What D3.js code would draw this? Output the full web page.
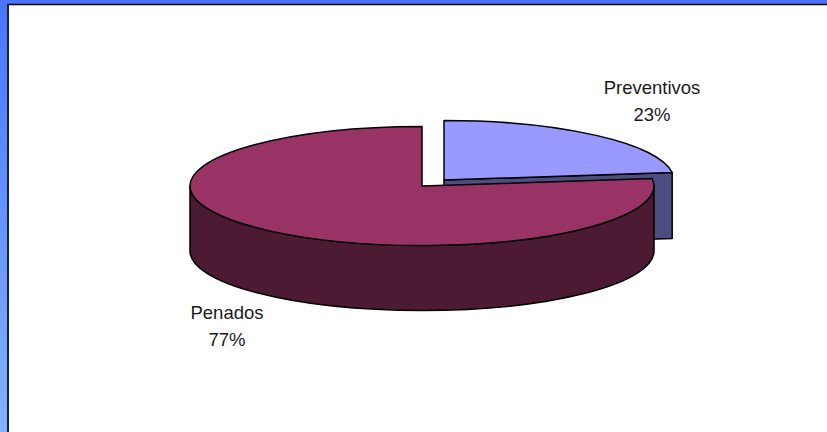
<!DOCTYPE html>
<html><head><meta charset="utf-8">
<script src="https://cdn.jsdelivr.net/npm/d3@7"></script>
<style>html,body{margin:0;padding:0;background:#fff;overflow:hidden}svg{display:block}text{font-family:"Liberation Sans",Arial,sans-serif;font-size:18.5px;fill:#1a1a1a;text-anchor:middle}</style>
</head><body><svg id="c" width="827" height="432"></svg>
<script>
const categories = ["Preventivos", "Penados"];
const values = [23, 77];
const percentLabels = ["23%", "77%"];
const topColors = ["#9999ff", "#993366"];
const wallColors = ["#4d4d80", "#4d1a33"];

const W = 827, H = 432;
const svg = d3.select("#c");
const defs = svg.append("defs");
const grad = defs.append("linearGradient").attr("id","bg").attr("x1",0).attr("y1",0).attr("x2",0).attr("y2",1);
grad.append("stop").attr("offset",0).attr("stop-color","#4a74ff");
grad.append("stop").attr("offset",1).attr("stop-color","#82b2ff");

svg.append("rect").attr("width",W).attr("height",H).attr("fill","url(#bg)");
svg.append("rect").attr("x",7).attr("y",4).attr("width",W-7).attr("height",H-4).attr("fill","#fff");
svg.append("line").attr("x1",7).attr("x2",W).attr("y1",4.5).attr("y2",4.5).attr("stroke","#000").attr("stroke-width",1.6);
svg.append("line").attr("x1",8).attr("x2",8).attr("y1",4).attr("y2",H).attr("stroke","#1c2233").attr("stroke-width",2);

const arcs = d3.pie().sort(null).value(d=>d)(values);
const slices = [
  {cx:444, cy:180, rx:230, ry:59.5, depth:66},
  {cx:422, cy:186, rx:232, ry:59.5, depth:65}
];
const pt = (s,a,dy=0)=>[s.cx+s.rx*Math.sin(a), s.cy-s.ry*Math.cos(a)+dy];
const line = {stroke:"#000","stroke-width":1.5,"stroke-linejoin":"round"};
const style = (sel,fill)=>{sel.attr("fill",fill);for(const k in line)sel.attr(k,line[k]);return sel;};

function topPath(s,a0,a1){
  const p0=pt(s,a0),p1=pt(s,a1),large=(a1-a0)>Math.PI?1:0;
  return `M${s.cx},${s.cy}L${p0}A${s.rx},${s.ry} 0 ${large} 1 ${p1}Z`;
}
// Blue slice: cut face at its far edge, then top
{
  const s=slices[0],a=arcs[0];
  const e=pt(s,a.endAngle), eb=pt(s,a.endAngle,s.depth);
  style(svg.append("path"),wallColors[0]).attr("d",`M${s.cx},${s.cy}L${e}L${eb}L${s.cx},${s.cy+s.depth}Z`);
  style(svg.append("path"),topColors[0]).attr("d",topPath(s,a.startAngle,a.endAngle));
}
// Red slice: outer wall along the front half of the ellipse, then top
{
  const s=slices[1],a=arcs[1];
  const a0=Math.max(a.startAngle,Math.PI/2), a1=Math.min(a.endAngle,Math.PI*1.5);
  const p0=pt(s,a0),p1=pt(s,a1),p0b=pt(s,a0,s.depth),p1b=pt(s,a1,s.depth);
  style(svg.append("path"),wallColors[1]).attr("d",
    `M${p0}A${s.rx},${s.ry} 0 0 1 ${p1}L${p1b}A${s.rx},${s.ry} 0 0 0 ${p0b}Z`);
  style(svg.append("path"),topColors[1]).attr("d",topPath(s,a.startAngle,a.endAngle));
}
const labelPos=[{x:652,y:[94,121]},{x:227,y:[319,346]}];
categories.forEach((c,i)=>{
  svg.append("text").attr("x",labelPos[i].x).attr("y",labelPos[i].y[0]).text(c);
  svg.append("text").attr("x",labelPos[i].x).attr("y",labelPos[i].y[1]).text(percentLabels[i]);
});
</script></body></html>
